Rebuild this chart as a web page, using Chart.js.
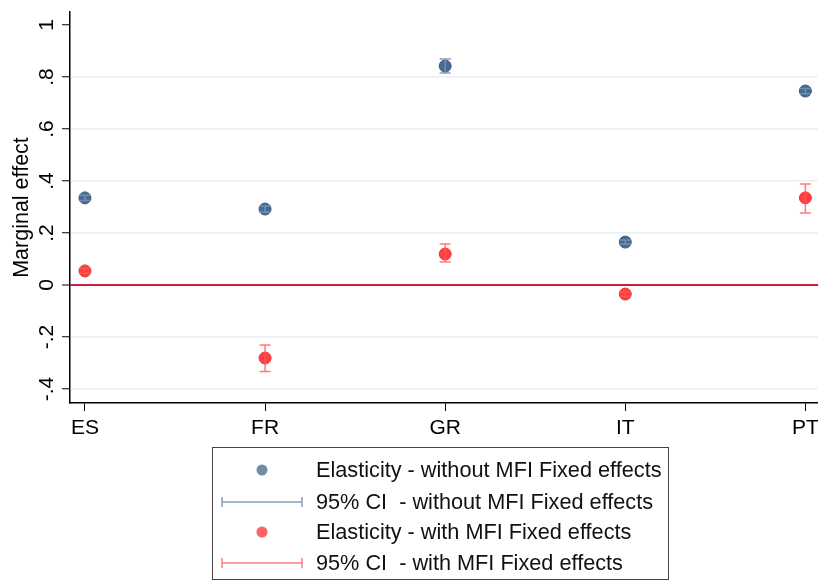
<!DOCTYPE html>
<html>
<head>
<meta charset="utf-8">
<script src="https://cdn.jsdelivr.net/npm/chart.js@4"></script>
<style>
  body { margin: 0; background: #fff; }
  #wrap { width: 818px; height: 582px; }
</style>
</head>
<body>
<div id="wrap"><canvas id="grafico" width="818" height="582"></canvas></div>
<script>
// categorias e valores
const paises = ["ES", "FR", "GR", "IT", "PT"];
const semFE = [0.335, 0.292, 0.842, 0.165, 0.746];
const semFEinf = [0.325, 0.280, 0.815, 0.157, 0.736];
const semFEsup = [0.345, 0.304, 0.869, 0.173, 0.756];
const comFE = [0.054, -0.281, 0.119, -0.035, 0.335];
const comFEinf = [0.045, -0.333, 0.088, -0.043, 0.277];
const comFEsup = [0.063, -0.231, 0.158, -0.027, 0.388];
const yTicks = [-0.4, -0.2, 0, 0.2, 0.4, 0.6, 0.8, 1];
const yLabels = ["-.4", "-.2", "0", ".2", ".4", ".6", ".8", "1"];

const azul = "rgb(72,106,146)";
const azulCI = "rgba(120,148,178,0.9)";
const vermelho = "rgb(255,64,64)";
const vermelhoCI = "rgba(255,90,90,0.8)";
const fonte = "'Liberation Sans', Arial, sans-serif";

const legendaItens = [
  { tipo: "ponto", cor: "rgba(90,120,155,0.85)", texto: "Elasticity - without MFI Fixed effects" },
  { tipo: "ci", cor: azulCI, texto: "95% CI  - without MFI Fixed effects" },
  { tipo: "ponto", cor: "rgba(255,70,70,0.85)", texto: "Elasticity - with MFI Fixed effects" },
  { tipo: "ci", cor: vermelhoCI, texto: "95% CI  - with MFI Fixed effects" }
];

// barras de erro
const barrasErro = {
  id: "barrasErro",
  afterDatasetsDraw(chart) {
    const ctx = chart.ctx;
    const x = chart.scales.x, y = chart.scales.y;
    const grupos = [[semFEinf, semFEsup, azulCI], [comFEinf, comFEsup, vermelhoCI]];
    ctx.save();
    for (const g of grupos) {
      ctx.strokeStyle = g[2];
      ctx.lineWidth = 1.5;
      for (let i = 0; i < paises.length; i++) {
        const px = x.getPixelForValue(i);
        const y1 = y.getPixelForValue(g[0][i]);
        const y2 = y.getPixelForValue(g[1][i]);
        ctx.beginPath();
        ctx.moveTo(px, y1); ctx.lineTo(px, y2);
        ctx.moveTo(px - 5.5, y1); ctx.lineTo(px + 5.5, y1);
        ctx.moveTo(px - 5.5, y2); ctx.lineTo(px + 5.5, y2);
        ctx.stroke();
      }
    }
    ctx.restore();
  }
};

// textos rotacionados do eixo y e legenda
const textosExtras = {
  id: "textosExtras",
  afterDraw(chart) {
    const ctx = chart.ctx;
    const y = chart.scales.y;
    ctx.save();
    ctx.fillStyle = "#000";
    ctx.font = "21px " + fonte;
    ctx.textAlign = "center";
    ctx.textBaseline = "middle";
    for (let i = 0; i < yTicks.length; i++) {
      const py = y.getPixelForValue(yTicks[i]);
      ctx.save();
      ctx.translate(47, py);
      ctx.rotate(-Math.PI / 2);
      ctx.fillText(yLabels[i], 0, 0);
      ctx.restore();
    }
    ctx.save();
    ctx.font = "21.5px " + fonte;
    ctx.translate(22, (chart.chartArea.top + chart.chartArea.bottom) / 2);
    ctx.rotate(-Math.PI / 2);
    ctx.fillText("Marginal effect", 0, 0);
    ctx.restore();

    // legenda
    ctx.strokeStyle = "#444";
    ctx.lineWidth = 1;
    ctx.strokeRect(212.5, 447.5, 456, 132);
    ctx.textAlign = "left";
    ctx.font = "21.7px " + fonte;
    const linhas = [470, 502, 532, 563];
    legendaItens.forEach((item, i) => {
      const ly = linhas[i];
      if (item.tipo === "ponto") {
        ctx.fillStyle = item.cor;
        ctx.beginPath();
        ctx.arc(262, ly, 5.5, 0, Math.PI * 2);
        ctx.fill();
      } else {
        ctx.strokeStyle = item.cor;
        ctx.lineWidth = 1.5;
        ctx.beginPath();
        ctx.moveTo(222, ly); ctx.lineTo(302, ly);
        ctx.moveTo(222, ly - 5); ctx.lineTo(222, ly + 5);
        ctx.moveTo(302, ly - 5); ctx.lineTo(302, ly + 5);
        ctx.stroke();
      }
      ctx.fillStyle = "#111";
      ctx.fillText(item.texto, 316, ly + 1);
    });
    ctx.restore();
  }
};

new Chart(document.getElementById("grafico"), {
  type: "scatter",
  data: {
    datasets: [
      {
        label: "Elasticity - without MFI Fixed effects",
        data: semFE.map((v, i) => ({ x: i, y: v })),
        backgroundColor: azul,
        borderColor: "rgb(60,90,125)",
        borderWidth: 1,
        pointRadius: 6
      },
      {
        label: "Elasticity - with MFI Fixed effects",
        data: comFE.map((v, i) => ({ x: i, y: v })),
        backgroundColor: vermelho,
        borderColor: "rgb(240,50,50)",
        borderWidth: 1,
        pointRadius: 6
      }
    ]
  },
  options: {
    responsive: false,
    animation: false,
    layout: { autoPadding: false, padding: { top: 12, right: 0, left: 0, bottom: 0 } },
    plugins: { legend: { display: false }, tooltip: { enabled: false } },
    scales: {
      x: {
        type: "linear",
        min: -0.083,
        max: 4.07,
        afterBuildTicks: (s) => { s.ticks = paises.map((p, i) => ({ value: i })); },
        afterFit: (s) => { s.height = 179; s.paddingLeft = 0; s.paddingRight = 0; },
        grid: { display: true, drawOnChartArea: false, tickLength: 8, tickColor: "#000", tickWidth: 1 },
        border: { color: "#000", width: 1.5 },
        ticks: {
          autoSkip: false,
          maxRotation: 0,
          padding: 5,
          color: "#000",
          font: { size: 21, family: fonte },
          callback: (v) => paises[v]
        }
      },
      y: {
        min: -0.454,
        max: 1.05,
        afterBuildTicks: (s) => { s.ticks = yTicks.map((v) => ({ value: v })); },
        afterFit: (s) => { s.width = 70; s.paddingTop = 0; s.paddingBottom = 0; },
        grid: {
          color: (c) => {
            const v = c.tick ? c.tick.value : null;
            if (v === 1) return "rgba(0,0,0,0)";
            if (v === 0) return "rgb(200,30,70)";
            return "#e9eff2";
          },
          lineWidth: (c) => (c.tick && c.tick.value === 0 ? 2 : 1.5),
          tickLength: 8,
          tickColor: "#000",
          tickWidth: 1
        },
        border: { color: "#000", width: 1.5 },
        ticks: { color: "rgba(0,0,0,0)", font: { size: 18 } }
      }
    }
  },
  plugins: [barrasErro, textosExtras]
});
</script>
</body>
</html>
